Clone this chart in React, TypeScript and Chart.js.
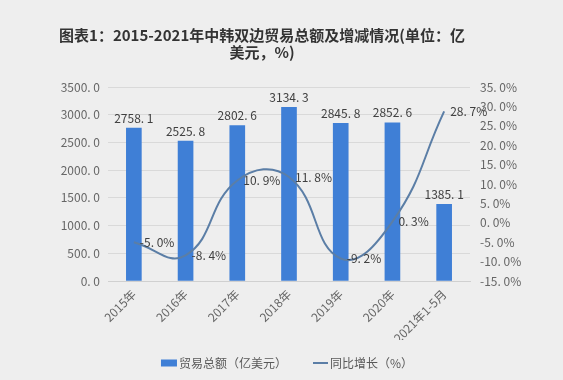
import React, { useEffect, useRef } from "react";
import { Chart, registerables } from "chart.js";

Chart.register(...registerables);

const categories = ["2015年", "2016年", "2017年", "2018年", "2019年", "2020年", "2021年1-5月"];
const tradeTotal = [2758.1, 2525.8, 2802.6, 3134.3, 2845.8, 2852.6, 1385.1];
const growthPct = [-5.0, -8.4, 10.9, 11.8, -9.2, 0.3, 28.7];
const titleLines = ["图表1：2015-2021年中韩双边贸易总额及增减情况(单位：亿", "美元，%)"];
const legendLabels = ["贸易总额（亿美元）", "同比增长（%）"];

const BAR_COLOR = "#3f7fd6";
const LINE_COLOR = "#5b7ea6";
const BG = "#eeeeee";
const FONT = "'Noto Sans CJK SC', 'Liberation Sans', sans-serif";

const fmt = (v: number) => v.toFixed(1).replace(".", ". ");

const decorPlugin = {
  id: "decor",
  beforeDraw(chart: any) {
    const ctx = chart.ctx;
    ctx.save();
    ctx.fillStyle = BG;
    ctx.fillRect(0, 0, chart.width, chart.height);
    ctx.restore();
  },
  afterDatasetsDraw(chart: any) {
    const ctx = chart.ctx;
    ctx.save();
    ctx.font = `12px ${FONT}`;
    ctx.fillStyle = "#404040";
    const barMeta = chart.getDatasetMeta(0);
    barMeta.data.forEach((el: any, i: number) => {
      ctx.textAlign = "center";
      ctx.textBaseline = "bottom";
      ctx.fillText(fmt(tradeTotal[i]), el.x, el.y - 4);
    });
    const lineMeta = chart.getDatasetMeta(1);
    lineMeta.data.forEach((el: any, i: number) => {
      ctx.textAlign = "left";
      ctx.textBaseline = "middle";
      ctx.fillText(fmt(growthPct[i]) + "%", el.x + 6, el.y);
    });
    ctx.restore();
  },
  afterDraw(chart: any) {
    const ctx = chart.ctx;
    ctx.save();
    // title
    ctx.font = `bold 15px ${FONT}`;
    ctx.fillStyle = "#333333";
    ctx.textAlign = "center";
    ctx.textBaseline = "middle";
    ctx.fillText(titleLines[0], 262, 35);
    ctx.fillText(titleLines[1], 262, 52);
    // legend
    ctx.font = `12px ${FONT}`;
    const w1 = ctx.measureText(legendLabels[0]).width;
    const w2 = ctx.measureText(legendLabels[1]).width;
    const total = 16 + 2 + w1 + 26 + 15 + 2 + w2;
    let x = 287 - total / 2;
    const y = 363;
    ctx.fillStyle = BAR_COLOR;
    ctx.fillRect(x, y - 3.5, 16, 7);
    x += 18;
    ctx.fillStyle = "#595959";
    ctx.textAlign = "left";
    ctx.fillText(legendLabels[0], x, y);
    x += w1 + 26;
    ctx.strokeStyle = LINE_COLOR;
    ctx.lineWidth = 2;
    ctx.beginPath();
    ctx.moveTo(x, y);
    ctx.lineTo(x + 15, y);
    ctx.stroke();
    x += 17;
    ctx.fillText(legendLabels[1], x, y);
    ctx.restore();
  },
};

export default function App() {
  const ref = useRef<HTMLCanvasElement>(null);
  useEffect(() => {
    if (!ref.current) return;
    const chart = new Chart(ref.current, {
      type: "bar",
      data: {
        labels: categories,
        datasets: [
          {
            type: "bar",
            label: legendLabels[0],
            data: tradeTotal,
            backgroundColor: BAR_COLOR,
            barThickness: 15,
            yAxisID: "y",
            order: 2,
          },
          {
            type: "line",
            label: legendLabels[1],
            data: growthPct,
            borderColor: LINE_COLOR,
            borderWidth: 2,
            pointRadius: 0,
            tension: 0.45,
            fill: false,
            yAxisID: "y1",
            order: 1,
          },
        ] as any,
      },
      options: {
        animation: false,
        responsive: false,
        layout: { padding: { top: 87, bottom: 40, left: 0, right: 0 } },
        plugins: {
          legend: { display: false },
          title: { display: false },
          tooltip: { enabled: false },
        },
        scales: {
          x: {
            grid: { display: false, drawTicks: false },
            border: { color: "#d0d0d0" },
            ticks: {
              minRotation: 45,
              maxRotation: 45,
              padding: 6,
              color: "#666666",
              font: { size: 12, family: FONT },
            },
            afterFit(scale: any) {
              scale.height = 59;
            },
          },
          y: {
            position: "left",
            min: 0,
            max: 3500,
            grid: { color: "#d9d9d9", drawTicks: false },
            border: { display: false },
            ticks: {
              stepSize: 500,
              padding: 8,
              color: "#666666",
              font: { size: 12, family: FONT },
              callback: (v: any) => fmt(Number(v)),
            },
            afterFit(scale: any) {
              scale.width = 108;
            },
          },
          y1: {
            position: "right",
            min: -15,
            max: 35,
            grid: { display: false, drawTicks: false },
            border: { display: false },
            ticks: {
              stepSize: 5,
              padding: 10,
              color: "#666666",
              font: { size: 12, family: FONT },
              callback: (v: any) => fmt(Number(v)) + "%",
            },
            afterFit(scale: any) {
              scale.width = 93;
            },
          },
        },
      },
      plugins: [decorPlugin],
    });
    return () => chart.destroy();
  }, []);
  return (
    <div style={{ position: "fixed", left: 0, top: 0, width: 563, height: 380, background: BG }}>
      <canvas ref={ref} width={563} height={380} style={{ width: 563, height: 380, display: "block" }} />
    </div>
  );
}
